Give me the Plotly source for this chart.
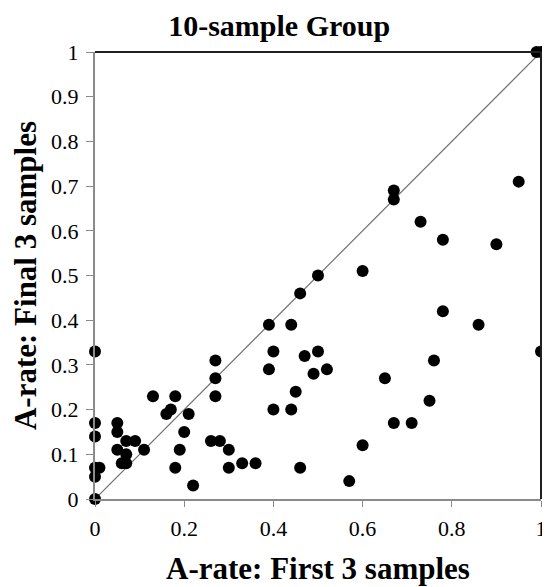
import plotly.graph_objects as go

first3 = [0, 0, 0, 0, 0.01, 0, 0,
          0.05, 0.05, 0.05, 0.07, 0.09, 0.07, 0.06, 0.07, 0.11,
          0.13, 0.16, 0.17, 0.18, 0.21, 0.20, 0.19, 0.18, 0.22,
          0.26, 0.28, 0.30, 0.30, 0.33, 0.36,
          0.27, 0.27, 0.27, 0.39, 0.40, 0.39, 0.40,
          0.60, 0.50, 0.46, 0.44, 0.78, 0.50, 0.47, 0.49, 0.52, 0.76,
          0.65, 0.45, 0.44, 0.75, 0.67, 0.71, 0.60, 0.46, 0.57,
          0.99, 1.0, 0.67, 0.67, 0.95, 0.73, 0.78, 0.90, 0.86, 1.0]
final3 = [0.33, 0.17, 0.14, 0.07, 0.07, 0.05, 0,
          0.17, 0.15, 0.11, 0.13, 0.13, 0.10, 0.08, 0.08, 0.11,
          0.23, 0.19, 0.20, 0.23, 0.19, 0.15, 0.11, 0.07, 0.03,
          0.13, 0.13, 0.11, 0.07, 0.08, 0.08,
          0.31, 0.27, 0.23, 0.39, 0.33, 0.29, 0.20,
          0.51, 0.50, 0.46, 0.39, 0.42, 0.33, 0.32, 0.28, 0.29, 0.31,
          0.27, 0.24, 0.20, 0.22, 0.17, 0.17, 0.12, 0.07, 0.04,
          1.0, 1.0, 0.69, 0.67, 0.71, 0.62, 0.58, 0.57, 0.39, 0.33]

x_ticks = [0, 0.2, 0.4, 0.6, 0.8, 1]
y_ticks = [0, 0.1, 0.2, 0.3, 0.4, 0.5, 0.6, 0.7, 0.8, 0.9, 1]
diag = [0, 1]

serif = "Liberation Serif"

fig = go.Figure()
fig.add_trace(go.Scatter(x=diag, y=diag, mode="lines",
                         line=dict(color="#707070", width=1.2),
                         hoverinfo="skip", showlegend=False))
fig.add_trace(go.Scatter(x=first3, y=final3, mode="markers",
                         marker=dict(color="black", size=12),
                         showlegend=False, cliponaxis=False))

fig.update_layout(
    width=550, height=587,
    margin=dict(l=87, r=17, t=44, b=96, autoexpand=False),
    paper_bgcolor="white", plot_bgcolor="white",
    title=dict(text="<b>10-sample Group</b>", x=0.493, xanchor="center",
               xref="container", yref="container",
               y=0.971, yanchor="middle",
               font=dict(family=serif, size=30, color="black")),
    font=dict(family=serif, color="black"),
)
fig.update_xaxes(range=[0, 1], tickvals=x_ticks,
                 ticktext=[f"{v:g}" for v in x_ticks],
                 showgrid=False, zeroline=False, automargin=False,
                 showline=True, linecolor="#8a8a8a", linewidth=2,
                 ticks="outside", ticklen=6, tickcolor="#8a8a8a",
                 ticklabelstandoff=3,
                 tickfont=dict(family=serif, size=22, color="black"),
                 title=dict(text="<b>A-rate: First 3 samples</b>",
                            font=dict(family=serif, size=31, color="black"),
                            standoff=17))
fig.update_yaxes(range=[0, 1], tickvals=y_ticks,
                 ticktext=[f"{v:g}" for v in y_ticks],
                 showgrid=False, zeroline=False, automargin=False,
                 showline=True, linecolor="#8a8a8a", linewidth=2,
                 ticks="outside", ticklen=7, tickcolor="#8a8a8a",
                 ticklabelstandoff=3,
                 tickfont=dict(family=serif, size=22, color="black"),
                 title=dict(text="<b>A-rate: Final 3 samples</b>",
                            font=dict(family=serif, size=31, color="black"),
                            standoff=10))
fig.add_shape(type="line", xref="paper", yref="paper", x0=0, x1=1, y0=1, y1=1,
              line=dict(color="#202020", width=2))
fig.add_shape(type="line", xref="paper", yref="paper", x0=1, x1=1, y0=0, y1=1,
              line=dict(color="#202020", width=2))

fig.write_html("out.html")
